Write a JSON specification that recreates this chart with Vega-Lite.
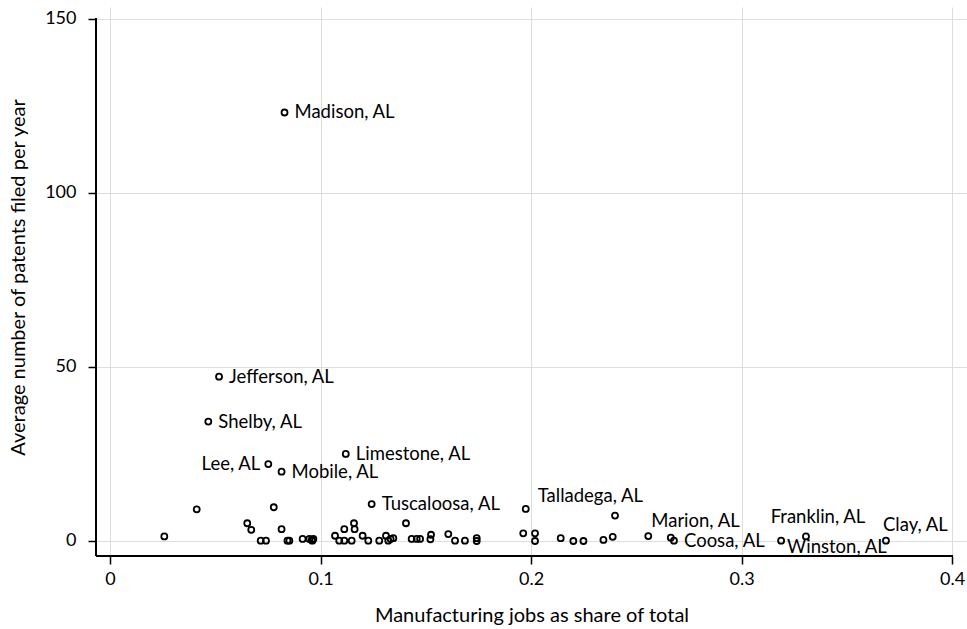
{
  "$schema": "https://vega.github.io/schema/vega-lite/v6.json",
  "width": 871,
  "height": 549,
  "autosize": {"type": "none"},
  "padding": {"left": 96, "top": 7, "right": 0, "bottom": 73},
  "background": "white",
  "config": {
    "view": {"stroke": null},
    "font": "Lato",
    "axis": {
      "labelFont": "Lato", "labelFontSize": 18, "labelColor": "black",
      "titleFont": "Lato", "titleFontSize": 20, "titleColor": "black", "titleFontWeight": "normal",
      "domain": false, "tickColor": "black", "tickSize": 8, "tickWidth": 1.5,
      "grid": true, "gridColor": "#dedede", "gridWidth": 1
    }
  },
  "data": {
    "values": [
      {"county": "Madison, AL", "share": 0.0829, "patents": 123.1},
      {"county": "Jefferson, AL", "share": 0.0518, "patents": 47.2},
      {"county": "Shelby, AL", "share": 0.0467, "patents": 34.3},
      {"county": "Lee, AL", "share": 0.0752, "patents": 22.1},
      {"county": "Mobile, AL", "share": 0.0815, "patents": 19.9},
      {"county": "Limestone, AL", "share": 0.112, "patents": 25.0},
      {"county": "Tuscaloosa, AL", "share": 0.1243, "patents": 10.6},
      {"county": "Talladega, AL", "share": 0.1975, "patents": 9.2},
      {"county": "Marion, AL", "share": 0.2557, "patents": 1.4},
      {"county": "Coosa, AL", "share": 0.2679, "patents": 0.1},
      {"county": "Franklin, AL", "share": 0.3306, "patents": 1.3},
      {"county": "Winston, AL", "share": 0.3188, "patents": 0.1},
      {"county": "Clay, AL", "share": 0.3686, "patents": 0.1},
      {"county": "", "share": 0.0258, "patents": 1.3},
      {"county": "", "share": 0.0412, "patents": 9.1},
      {"county": "", "share": 0.0652, "patents": 5.1},
      {"county": "", "share": 0.0671, "patents": 3.2},
      {"county": "", "share": 0.0716, "patents": 0.1},
      {"county": "", "share": 0.0741, "patents": 0.1},
      {"county": "", "share": 0.0778, "patents": 9.7},
      {"county": "", "share": 0.0815, "patents": 3.4},
      {"county": "", "share": 0.0843, "patents": 0.1},
      {"county": "", "share": 0.0852, "patents": 0.1},
      {"county": "", "share": 0.0915, "patents": 0.6},
      {"county": "", "share": 0.0947, "patents": 0.6},
      {"county": "", "share": 0.0961, "patents": 0.1},
      {"county": "", "share": 0.0966, "patents": 0.6},
      {"county": "", "share": 0.0958, "patents": 0.3},
      {"county": "", "share": 0.1069, "patents": 1.5},
      {"county": "", "share": 0.1089, "patents": 0.1},
      {"county": "", "share": 0.1113, "patents": 0.1},
      {"county": "", "share": 0.1113, "patents": 3.4},
      {"county": "", "share": 0.1148, "patents": 0.1},
      {"county": "", "share": 0.1159, "patents": 5.1},
      {"county": "", "share": 0.1162, "patents": 3.4},
      {"county": "", "share": 0.12, "patents": 1.5},
      {"county": "", "share": 0.1227, "patents": 0.1},
      {"county": "", "share": 0.1279, "patents": 0.1},
      {"county": "", "share": 0.1311, "patents": 1.5},
      {"county": "", "share": 0.1322, "patents": 0.1},
      {"county": "", "share": 0.1333, "patents": 0.6},
      {"county": "", "share": 0.1346, "patents": 0.8},
      {"county": "", "share": 0.1406, "patents": 5.1},
      {"county": "", "share": 0.1433, "patents": 0.6},
      {"county": "", "share": 0.1457, "patents": 0.6},
      {"county": "", "share": 0.1473, "patents": 0.6},
      {"county": "", "share": 0.1522, "patents": 0.5},
      {"county": "", "share": 0.1525, "patents": 1.8},
      {"county": "", "share": 0.1607, "patents": 2.0},
      {"county": "", "share": 0.1639, "patents": 0.1},
      {"county": "", "share": 0.1686, "patents": 0.1},
      {"county": "", "share": 0.1742, "patents": 0.8},
      {"county": "", "share": 0.1742, "patents": 0.0},
      {"county": "", "share": 0.1963, "patents": 2.2},
      {"county": "", "share": 0.2019, "patents": 2.2},
      {"county": "", "share": 0.2019, "patents": 0.0},
      {"county": "", "share": 0.2141, "patents": 0.8},
      {"county": "", "share": 0.2201, "patents": 0.0},
      {"county": "", "share": 0.2249, "patents": 0.0},
      {"county": "", "share": 0.2344, "patents": 0.3},
      {"county": "", "share": 0.2388, "patents": 1.2},
      {"county": "", "share": 0.2399, "patents": 7.3},
      {"county": "", "share": 0.2664, "patents": 0.95}
    ]
  },
  "layer": [
    {
      "mark": {"type": "point", "shape": "circle", "filled": false, "color": "black", "size": 36, "strokeWidth": 1.8, "opacity": 1},
      "encoding": {
        "x": {
          "field": "share", "type": "quantitative",
          "scale": {"domain": [-0.00665, 0.4071], "nice": false, "zero": false},
          "axis": {"title": "Manufacturing jobs as share of total", "values": [0, 0.1, 0.2, 0.3, 0.4], "format": "~g", "labelPadding": 6, "titleBaseline": "middle", "titleY": 59, "grid": true}
        },
        "y": {
          "field": "patents", "type": "quantitative",
          "scale": {"domain": [-4.31, 153.4], "nice": false, "zero": false},
          "axis": {"title": "Average number of patents filed per year", "values": [0, 50, 100, 150], "labelPadding": 12, "titleBaseline": "middle", "titleX": -78, "titleY": 270, "titleAngle": -90, "grid": true}
        }
      }
    },
    {
      "mark": {"type": "rule", "color": "black", "strokeWidth": 1.5},
      "encoding": {
        "x": {"datum": -0.00665, "type": "quantitative"},
        "y": {"datum": -4.31, "type": "quantitative"},
        "y2": {"datum": 150}
      }
    },
    {
      "mark": {"type": "rule", "color": "black", "strokeWidth": 1.5},
      "encoding": {
        "y": {"datum": -4.31, "type": "quantitative"},
        "x": {"datum": -0.00665, "type": "quantitative"},
        "x2": {"datum": 0.4}
      }
    },
    {
      "transform": [{"filter": "indexof(['Madison, AL','Jefferson, AL','Shelby, AL','Limestone, AL','Mobile, AL','Tuscaloosa, AL','Coosa, AL'], datum.county) >= 0"}],
      "mark": {"type": "text", "align": "left", "baseline": "middle", "dx": 10, "fontSize": 18.5, "font": "Lato", "color": "black"},
      "encoding": {"x": {"field": "share", "type": "quantitative"}, "y": {"field": "patents", "type": "quantitative"}, "text": {"field": "county"}}
    },
    {
      "transform": [{"filter": "datum.county == 'Lee, AL'"}],
      "mark": {"type": "text", "align": "right", "baseline": "middle", "dx": -8, "fontSize": 18.5, "font": "Lato", "color": "black"},
      "encoding": {"x": {"field": "share", "type": "quantitative"}, "y": {"field": "patents", "type": "quantitative"}, "text": {"field": "county"}}
    },
    {
      "transform": [{"filter": "datum.county == 'Talladega, AL'"}],
      "mark": {"type": "text", "align": "left", "baseline": "middle", "dx": 12, "dy": -13, "fontSize": 18.5, "font": "Lato", "color": "black"},
      "encoding": {"x": {"field": "share", "type": "quantitative"}, "y": {"field": "patents", "type": "quantitative"}, "text": {"field": "county"}}
    },
    {
      "transform": [{"filter": "datum.county == 'Marion, AL'"}],
      "mark": {"type": "text", "align": "left", "baseline": "middle", "dx": 3, "dy": -15, "fontSize": 18.5, "font": "Lato", "color": "black"},
      "encoding": {"x": {"field": "share", "type": "quantitative"}, "y": {"field": "patents", "type": "quantitative"}, "text": {"field": "county"}}
    },
    {
      "transform": [{"filter": "datum.county == 'Franklin, AL'"}],
      "mark": {"type": "text", "align": "center", "baseline": "middle", "dx": 12, "dy": -19, "fontSize": 18.5, "font": "Lato", "color": "black"},
      "encoding": {"x": {"field": "share", "type": "quantitative"}, "y": {"field": "patents", "type": "quantitative"}, "text": {"field": "county"}}
    },
    {
      "transform": [{"filter": "datum.county == 'Clay, AL'"}],
      "mark": {"type": "text", "align": "left", "baseline": "middle", "dx": -3, "dy": -16, "fontSize": 18.5, "font": "Lato", "color": "black"},
      "encoding": {"x": {"field": "share", "type": "quantitative"}, "y": {"field": "patents", "type": "quantitative"}, "text": {"field": "county"}}
    },
    {
      "transform": [{"filter": "datum.county == 'Winston, AL'"}],
      "mark": {"type": "text", "align": "left", "baseline": "middle", "dx": 6, "dy": 6, "fontSize": 18.5, "font": "Lato", "color": "black"},
      "encoding": {"x": {"field": "share", "type": "quantitative"}, "y": {"field": "patents", "type": "quantitative"}, "text": {"field": "county"}}
    }
  ]
}
